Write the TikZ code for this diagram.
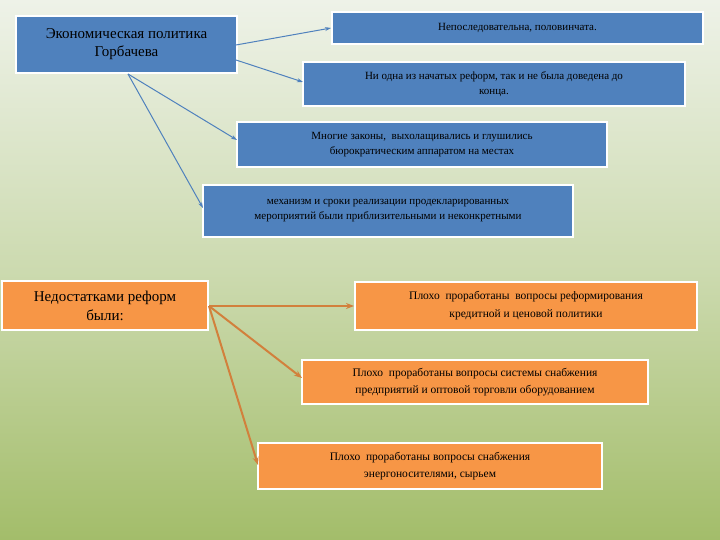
\documentclass[tikz,border=0pt]{standalone}
\usepackage{fontspec}
\setmainfont{Liberation Serif}
\usetikzlibrary{arrows.meta}
\definecolor{bl}{HTML}{4F81BD}
\definecolor{or}{HTML}{F79646}
\definecolor{bgt}{HTML}{EEF2E8}
\definecolor{bgb}{HTML}{A3BD6A}
\begin{document}
\begin{tikzpicture}[x=1pt,y=-1pt,
 box/.style={draw=white,line width=2pt,fill=bl,align=center,inner sep=0pt,font=\fontsize{11}{15}\selectfont},
 obox/.style={box,fill=or},
 ba/.style={draw=bl,line width=1pt,-{Stealth[length=6pt,width=4pt]}},
 oa/.style={draw=or!85!black,line width=2pt,-{Stealth[length=8pt,width=6pt]}}]
\shade[top color=bgt,bottom color=bgb,middle color=bgt!55!bgb] (0,0) rectangle (720,540);
\useasboundingbox (0,0) rectangle (720,540);
\node[box,minimum width=221,minimum height=57,font=\fontsize{15}{18}\selectfont] (a) at (126.5,44.5) {Экономическая политика\\Горбачева};
\node[box,minimum width=371,minimum height=32] (b) at (517.5,28) {Непоследовательна, половинчата.};
\node[box,minimum width=382,minimum height=44] (c) at (494,84) {Ни одна из начатых реформ, так и не была доведена до\\конца.};
\node[box,minimum width=370,minimum height=45] (d) at (422,144.5) {Многие законы, \ выхолащивались и глушились\\бюрократическим аппаратом на местах};
\node[box,minimum width=370,minimum height=52] (e) at (388,211) {механизм и сроки реализации продекларированных\\мероприятий были приблизительными и неконкретными};
\node[obox,minimum width=206,minimum height=49,font=\fontsize{15}{19}\selectfont] (f) at (105,305.5) {Недостатками реформ\\были:};
\node[obox,minimum width=342,minimum height=48,font=\fontsize{11.5}{18}\selectfont] (g) at (526,306) {Плохо \ проработаны \ вопросы реформирования\\кредитной и ценовой политики};
\node[obox,minimum width=346,minimum height=44,font=\fontsize{11.5}{17}\selectfont] (h) at (475,382) {Плохо \ проработаны вопросы системы снабжения\\предприятий и оптовой торговли оборудованием};
\node[obox,minimum width=344,minimum height=46,font=\fontsize{11.5}{17}\selectfont] (i) at (430,466) {Плохо \ проработаны вопросы снабжения\\энергоносителями, сырьем};
\coordinate (a1) at (236,45);
\coordinate (a2) at (236,60);
\coordinate (a3) at (128,74);
\coordinate (f1) at (209,306);
\draw[ba] (a1) -- (b.west);
\draw[ba] (a2) -- (303,82);
\draw[ba] (a3) -- (237,140);
\draw[ba] (a3) -- (203,208);
\draw[oa] (f1) -- (g.west);
\draw[oa] (f1) -- (302,378);
\draw[oa] (f1) -- (258,465);
\end{tikzpicture}
\end{document}
